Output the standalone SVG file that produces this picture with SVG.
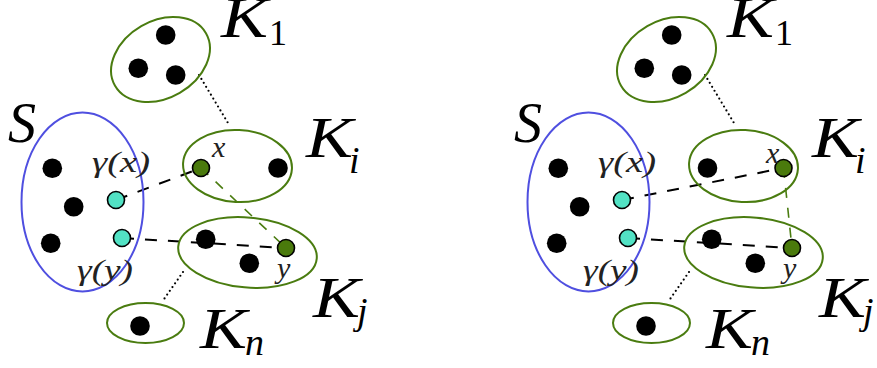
<svg xmlns="http://www.w3.org/2000/svg" width="877" height="368" viewBox="0 0 877 368">
<style>
.bg{fill:#ffffff}
.cl{fill:none;stroke:#4a7c10;stroke-width:2}
.sl{fill:none;stroke:#4f4fe0;stroke-width:2}
.pt{fill:#000000}
.cy{fill:#52e2c4;stroke:#000;stroke-width:1.6}
.gr{fill:#4a7a0c;stroke:#000;stroke-width:1.6}
.dash{stroke:#000;stroke-width:2;stroke-dasharray:12 11;fill:none}
.gdash{stroke:#4a7c10;stroke-width:1.6;stroke-dasharray:10 10;fill:none}
.dot{stroke:#000;stroke-width:2.2;stroke-dasharray:0 4.6;stroke-linecap:round;fill:none}
.big{font-family:"Liberation Serif",serif;font-style:italic;font-size:56px;fill:#000}
.sub{font-family:"Liberation Serif",serif;font-style:italic;font-size:38px;fill:#000}
.subr{font-family:"Liberation Serif",serif;font-size:36px;fill:#000}
.lab{font-family:"Liberation Serif",serif;font-style:italic;font-size:30px;fill:#222}
</style>
<rect class="bg" x="0" y="0" width="877" height="368"/>

<g id="panel-left">
  <g id="connectors-left">
    <line class="dot" x1="199" y1="75" x2="228" y2="123"/>
    <line class="dot" x1="183" y1="272" x2="162" y2="302"/>
    <line class="dash" x1="116" y1="200" x2="201" y2="168"/>
    <line class="dash" x1="122" y1="238" x2="286" y2="248"/>
    <line class="gdash" x1="201" y1="168" x2="286" y2="248"/>
  </g>
  <g id="K1-left">
    <ellipse class="cl" cx="160.5" cy="59.5" rx="52.5" ry="38.5" transform="rotate(-30 160.5 59.5)"/>
    <circle class="pt" cx="165.7" cy="35" r="9.8"/>
    <circle class="pt" cx="138.3" cy="68.3" r="9.8"/>
    <circle class="pt" cx="175.7" cy="75" r="9.8"/>
    <text class="big" x="221" y="37" textLength="47" lengthAdjust="spacingAndGlyphs">K</text><text class="subr" x="269" y="45">1</text>
  </g>
  <g id="S-left">
    <ellipse class="sl" cx="82.5" cy="202" rx="61" ry="89.5"/>
    <circle class="pt" cx="52.3" cy="168.3" r="9.8"/>
    <circle class="pt" cx="73.7" cy="206.7" r="9.8"/>
    <circle class="pt" cx="50.7" cy="243.3" r="9.8"/>
    <circle class="cy" cx="116" cy="200" r="8.5"/>
    <circle class="cy" cx="122" cy="238" r="8.5"/>
    <text class="big" x="8" y="142">S</text>
    <text class="lab" x="92" y="172" textLength="58" lengthAdjust="spacingAndGlyphs">γ(x)</text>
    <text class="lab" x="77" y="280" textLength="56" lengthAdjust="spacingAndGlyphs">γ(y)</text>
  </g>
  <g id="Ki-left">
    <ellipse class="cl" cx="237.5" cy="166" rx="54.5" ry="36" transform="rotate(3 237.5 166)"/>
    <circle class="gr" cx="201" cy="168" r="8.5"/>
    <circle class="pt" cx="278" cy="168" r="9.8"/>
    <text class="lab" x="212" y="157">x</text>
    <text class="big" x="306" y="157" textLength="47" lengthAdjust="spacingAndGlyphs">K</text><text class="sub" x="349" y="173">i</text>
  </g>
  <g id="Kj-left">
    <ellipse class="cl" cx="247.5" cy="252.5" rx="69.5" ry="35" transform="rotate(5 247.5 252.5)"/>
    <circle class="pt" cx="205.7" cy="239.3" r="9.8"/>
    <circle class="pt" cx="249.3" cy="263.3" r="9.8"/>
    <circle class="gr" cx="286" cy="248" r="8.5"/>
    <text class="lab" x="277" y="278">y</text>
    <text class="big" x="313" y="317" textLength="47" lengthAdjust="spacingAndGlyphs">K</text><text class="sub" x="357" y="324">j</text>
  </g>
  <g id="Kn-left">
    <ellipse class="cl" cx="145.5" cy="323" rx="38.5" ry="20"/>
    <circle class="pt" cx="140" cy="326" r="9.8"/>
    <text class="big" x="200" y="348" textLength="47" lengthAdjust="spacingAndGlyphs">K</text><text class="sub" x="245" y="355">n</text>
  </g>
</g>

<g id="panel-right" transform="translate(506 0)">
  <g id="connectors-right">
    <line class="dot" x1="199" y1="75" x2="228" y2="123"/>
    <line class="dot" x1="183" y1="272" x2="162" y2="302"/>
    <line class="dash" x1="116" y1="200" x2="277.5" y2="168"/>
    <line class="dash" x1="122" y1="238" x2="286" y2="248"/>
    <line class="gdash" x1="277.5" y1="168" x2="286" y2="248"/>
  </g>
  <g id="K1-right">
    <ellipse class="cl" cx="160.5" cy="59.5" rx="52.5" ry="38.5" transform="rotate(-30 160.5 59.5)"/>
    <circle class="pt" cx="165.7" cy="35" r="9.8"/>
    <circle class="pt" cx="138.3" cy="68.3" r="9.8"/>
    <circle class="pt" cx="175.7" cy="75" r="9.8"/>
    <text class="big" x="221" y="37" textLength="47" lengthAdjust="spacingAndGlyphs">K</text><text class="subr" x="269" y="45">1</text>
  </g>
  <g id="S-right">
    <ellipse class="sl" cx="82.5" cy="202" rx="61" ry="89.5"/>
    <circle class="pt" cx="52.3" cy="168.3" r="9.8"/>
    <circle class="pt" cx="73.7" cy="206.7" r="9.8"/>
    <circle class="pt" cx="50.7" cy="243.3" r="9.8"/>
    <circle class="cy" cx="116" cy="200" r="8.5"/>
    <circle class="cy" cx="122" cy="238" r="8.5"/>
    <text class="big" x="8" y="142">S</text>
    <text class="lab" x="92" y="172" textLength="58" lengthAdjust="spacingAndGlyphs">γ(x)</text>
    <text class="lab" x="77" y="280" textLength="56" lengthAdjust="spacingAndGlyphs">γ(y)</text>
  </g>
  <g id="Ki-right">
    <ellipse class="cl" cx="237.5" cy="166" rx="54.5" ry="36" transform="rotate(3 237.5 166)"/>
    <circle class="pt" cx="201.5" cy="168" r="9.8"/>
    <circle class="gr" cx="277.5" cy="168" r="8.5"/>
    <text class="lab" x="260" y="163">x</text>
    <text class="big" x="306" y="157" textLength="47" lengthAdjust="spacingAndGlyphs">K</text><text class="sub" x="349" y="173">i</text>
  </g>
  <g id="Kj-right">
    <ellipse class="cl" cx="247.5" cy="252.5" rx="69.5" ry="35" transform="rotate(5 247.5 252.5)"/>
    <circle class="pt" cx="205.7" cy="239.3" r="9.8"/>
    <circle class="pt" cx="249.3" cy="263.3" r="9.8"/>
    <circle class="gr" cx="286" cy="248" r="8.5"/>
    <text class="lab" x="277" y="278">y</text>
    <text class="big" x="313" y="317" textLength="47" lengthAdjust="spacingAndGlyphs">K</text><text class="sub" x="357" y="324">j</text>
  </g>
  <g id="Kn-right">
    <ellipse class="cl" cx="145.5" cy="323" rx="38.5" ry="20"/>
    <circle class="pt" cx="140" cy="326" r="9.8"/>
    <text class="big" x="200" y="348" textLength="47" lengthAdjust="spacingAndGlyphs">K</text><text class="sub" x="245" y="355">n</text>
  </g>
</g>
</svg>
